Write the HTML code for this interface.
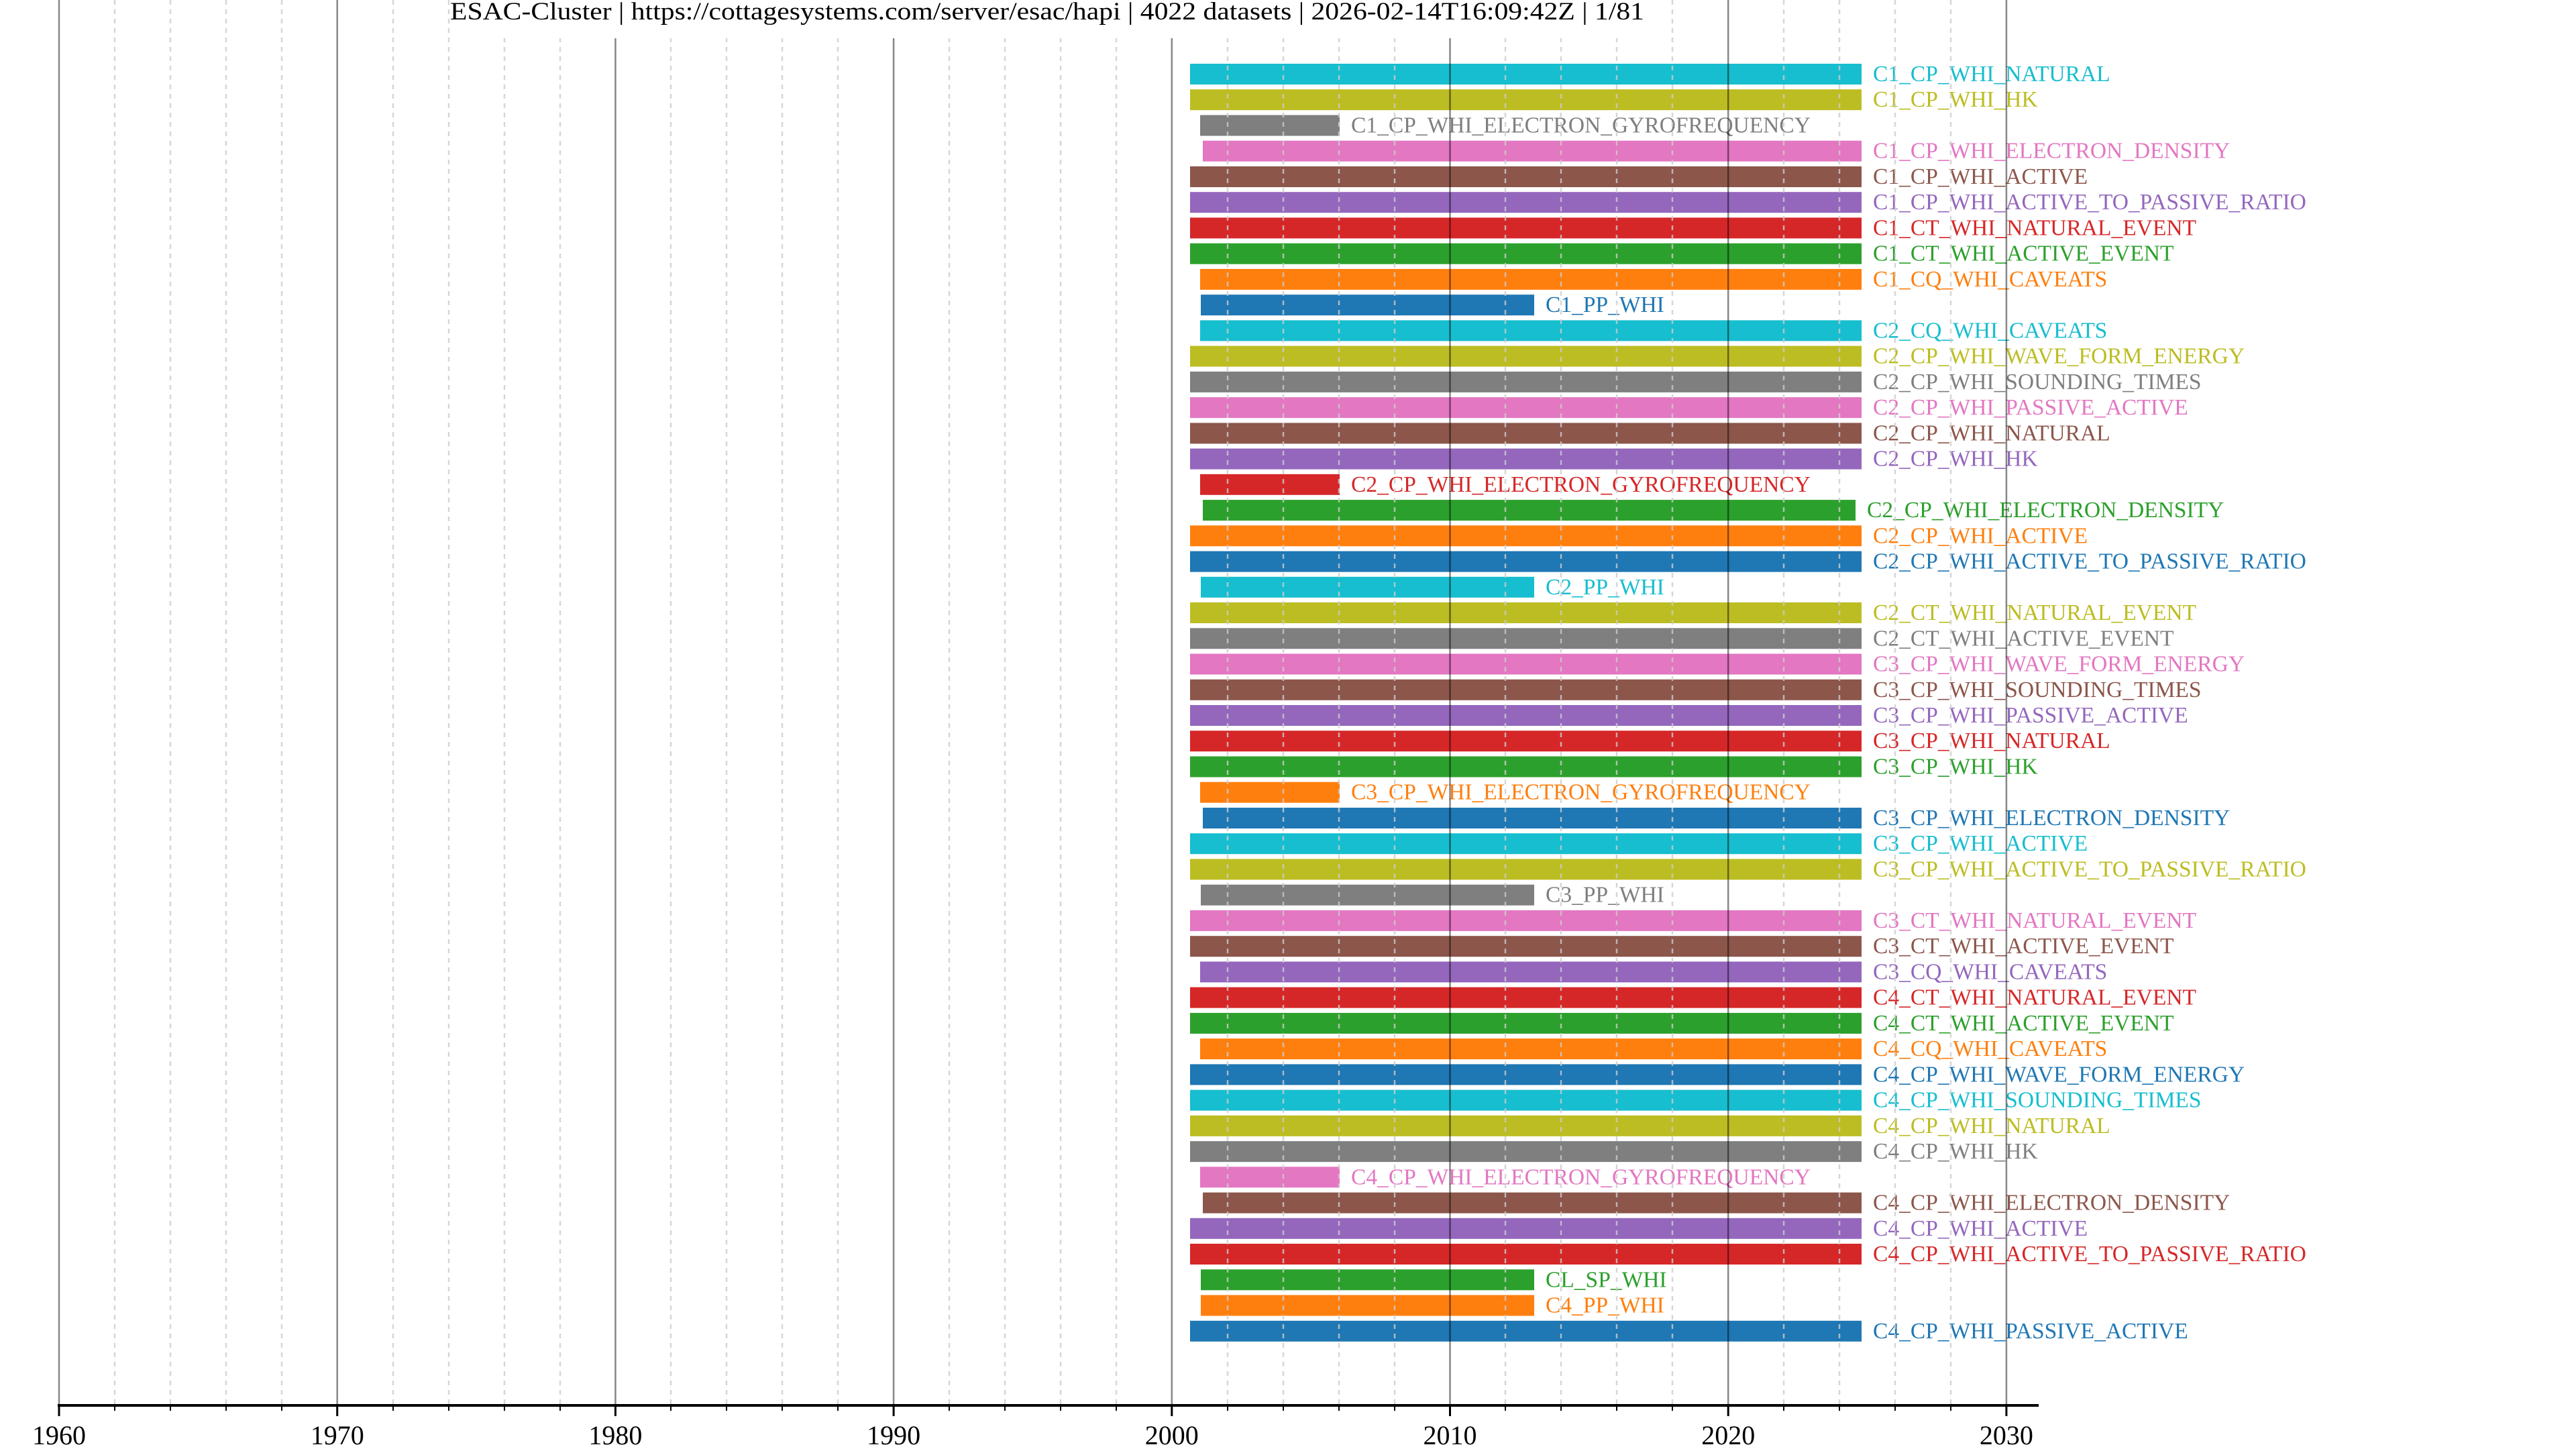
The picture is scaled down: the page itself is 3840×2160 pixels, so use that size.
<!DOCTYPE html>
<html><head><meta charset="utf-8"><style>
html,body{margin:0;padding:0;background:#fff;}
svg{display:block;}
text{font-family:"Liberation Serif","Times New Roman",serif;}
.l{font-size:33.5px;}
</style></head><body>
<svg width="3840" height="2160" viewBox="0 0 3840 2160" xmlns="http://www.w3.org/2000/svg">
<rect width="3840" height="2160" fill="#fff"/>
<g class="l">
<g transform="translate(0,95.0)"><rect x="1774" y="0" width="1001" height="31" fill="#17becf"/><text x="2792" y="26" fill="#17becf">C1_CP_WHI_NATURAL</text></g>
<g transform="translate(0,133.2)"><rect x="1774" y="0" width="1001" height="31" fill="#bcbd22"/><text x="2792" y="26" fill="#bcbd22">C1_CP_WHI_HK</text></g>
<g transform="translate(0,171.5)"><rect x="1789" y="0" width="208" height="31" fill="#7f7f7f"/><text x="2014" y="26" fill="#7f7f7f">C1_CP_WHI_ELECTRON_GYROFREQUENCY</text></g>
<g transform="translate(0,209.7)"><rect x="1793" y="0" width="982" height="31" fill="#e377c2"/><text x="2792" y="26" fill="#e377c2">C1_CP_WHI_ELECTRON_DENSITY</text></g>
<g transform="translate(0,248.0)"><rect x="1774" y="0" width="1001" height="31" fill="#8c564b"/><text x="2792" y="26" fill="#8c564b">C1_CP_WHI_ACTIVE</text></g>
<g transform="translate(0,286.2)"><rect x="1774" y="0" width="1001" height="31" fill="#9467bd"/><text x="2792" y="26" fill="#9467bd">C1_CP_WHI_ACTIVE_TO_PASSIVE_RATIO</text></g>
<g transform="translate(0,324.4)"><rect x="1774" y="0" width="1001" height="31" fill="#d62728"/><text x="2792" y="26" fill="#d62728">C1_CT_WHI_NATURAL_EVENT</text></g>
<g transform="translate(0,362.7)"><rect x="1774" y="0" width="1001" height="31" fill="#2ca02c"/><text x="2792" y="26" fill="#2ca02c">C1_CT_WHI_ACTIVE_EVENT</text></g>
<g transform="translate(0,400.9)"><rect x="1789" y="0" width="986" height="31" fill="#ff7f0e"/><text x="2792" y="26" fill="#ff7f0e">C1_CQ_WHI_CAVEATS</text></g>
<g transform="translate(0,439.2)"><rect x="1790" y="0" width="497" height="31" fill="#1f77b4"/><text x="2304" y="26" fill="#1f77b4">C1_PP_WHI</text></g>
<g transform="translate(0,477.4)"><rect x="1789" y="0" width="986" height="31" fill="#17becf"/><text x="2792" y="26" fill="#17becf">C2_CQ_WHI_CAVEATS</text></g>
<g transform="translate(0,515.6)"><rect x="1774" y="0" width="1001" height="31" fill="#bcbd22"/><text x="2792" y="26" fill="#bcbd22">C2_CP_WHI_WAVE_FORM_ENERGY</text></g>
<g transform="translate(0,553.9)"><rect x="1774" y="0" width="1001" height="31" fill="#7f7f7f"/><text x="2792" y="26" fill="#7f7f7f">C2_CP_WHI_SOUNDING_TIMES</text></g>
<g transform="translate(0,592.1)"><rect x="1774" y="0" width="1001" height="31" fill="#e377c2"/><text x="2792" y="26" fill="#e377c2">C2_CP_WHI_PASSIVE_ACTIVE</text></g>
<g transform="translate(0,630.4)"><rect x="1774" y="0" width="1001" height="31" fill="#8c564b"/><text x="2792" y="26" fill="#8c564b">C2_CP_WHI_NATURAL</text></g>
<g transform="translate(0,668.6)"><rect x="1774" y="0" width="1001" height="31" fill="#9467bd"/><text x="2792" y="26" fill="#9467bd">C2_CP_WHI_HK</text></g>
<g transform="translate(0,706.8)"><rect x="1789" y="0" width="208" height="31" fill="#d62728"/><text x="2014" y="26" fill="#d62728">C2_CP_WHI_ELECTRON_GYROFREQUENCY</text></g>
<g transform="translate(0,745.1)"><rect x="1793" y="0" width="973" height="31" fill="#2ca02c"/><text x="2783" y="26" fill="#2ca02c">C2_CP_WHI_ELECTRON_DENSITY</text></g>
<g transform="translate(0,783.3)"><rect x="1774" y="0" width="1001" height="31" fill="#ff7f0e"/><text x="2792" y="26" fill="#ff7f0e">C2_CP_WHI_ACTIVE</text></g>
<g transform="translate(0,821.6)"><rect x="1774" y="0" width="1001" height="31" fill="#1f77b4"/><text x="2792" y="26" fill="#1f77b4">C2_CP_WHI_ACTIVE_TO_PASSIVE_RATIO</text></g>
<g transform="translate(0,859.8)"><rect x="1790" y="0" width="497" height="31" fill="#17becf"/><text x="2304" y="26" fill="#17becf">C2_PP_WHI</text></g>
<g transform="translate(0,898.0)"><rect x="1774" y="0" width="1001" height="31" fill="#bcbd22"/><text x="2792" y="26" fill="#bcbd22">C2_CT_WHI_NATURAL_EVENT</text></g>
<g transform="translate(0,936.3)"><rect x="1774" y="0" width="1001" height="31" fill="#7f7f7f"/><text x="2792" y="26" fill="#7f7f7f">C2_CT_WHI_ACTIVE_EVENT</text></g>
<g transform="translate(0,974.5)"><rect x="1774" y="0" width="1001" height="31" fill="#e377c2"/><text x="2792" y="26" fill="#e377c2">C3_CP_WHI_WAVE_FORM_ENERGY</text></g>
<g transform="translate(0,1012.8)"><rect x="1774" y="0" width="1001" height="31" fill="#8c564b"/><text x="2792" y="26" fill="#8c564b">C3_CP_WHI_SOUNDING_TIMES</text></g>
<g transform="translate(0,1051.0)"><rect x="1774" y="0" width="1001" height="31" fill="#9467bd"/><text x="2792" y="26" fill="#9467bd">C3_CP_WHI_PASSIVE_ACTIVE</text></g>
<g transform="translate(0,1089.2)"><rect x="1774" y="0" width="1001" height="31" fill="#d62728"/><text x="2792" y="26" fill="#d62728">C3_CP_WHI_NATURAL</text></g>
<g transform="translate(0,1127.5)"><rect x="1774" y="0" width="1001" height="31" fill="#2ca02c"/><text x="2792" y="26" fill="#2ca02c">C3_CP_WHI_HK</text></g>
<g transform="translate(0,1165.7)"><rect x="1789" y="0" width="208" height="31" fill="#ff7f0e"/><text x="2014" y="26" fill="#ff7f0e">C3_CP_WHI_ELECTRON_GYROFREQUENCY</text></g>
<g transform="translate(0,1204.0)"><rect x="1793" y="0" width="982" height="31" fill="#1f77b4"/><text x="2792" y="26" fill="#1f77b4">C3_CP_WHI_ELECTRON_DENSITY</text></g>
<g transform="translate(0,1242.2)"><rect x="1774" y="0" width="1001" height="31" fill="#17becf"/><text x="2792" y="26" fill="#17becf">C3_CP_WHI_ACTIVE</text></g>
<g transform="translate(0,1280.4)"><rect x="1774" y="0" width="1001" height="31" fill="#bcbd22"/><text x="2792" y="26" fill="#bcbd22">C3_CP_WHI_ACTIVE_TO_PASSIVE_RATIO</text></g>
<g transform="translate(0,1318.7)"><rect x="1790" y="0" width="497" height="31" fill="#7f7f7f"/><text x="2304" y="26" fill="#7f7f7f">C3_PP_WHI</text></g>
<g transform="translate(0,1356.9)"><rect x="1774" y="0" width="1001" height="31" fill="#e377c2"/><text x="2792" y="26" fill="#e377c2">C3_CT_WHI_NATURAL_EVENT</text></g>
<g transform="translate(0,1395.2)"><rect x="1774" y="0" width="1001" height="31" fill="#8c564b"/><text x="2792" y="26" fill="#8c564b">C3_CT_WHI_ACTIVE_EVENT</text></g>
<g transform="translate(0,1433.4)"><rect x="1789" y="0" width="986" height="31" fill="#9467bd"/><text x="2792" y="26" fill="#9467bd">C3_CQ_WHI_CAVEATS</text></g>
<g transform="translate(0,1471.6)"><rect x="1774" y="0" width="1001" height="31" fill="#d62728"/><text x="2792" y="26" fill="#d62728">C4_CT_WHI_NATURAL_EVENT</text></g>
<g transform="translate(0,1509.9)"><rect x="1774" y="0" width="1001" height="31" fill="#2ca02c"/><text x="2792" y="26" fill="#2ca02c">C4_CT_WHI_ACTIVE_EVENT</text></g>
<g transform="translate(0,1548.1)"><rect x="1789" y="0" width="986" height="31" fill="#ff7f0e"/><text x="2792" y="26" fill="#ff7f0e">C4_CQ_WHI_CAVEATS</text></g>
<g transform="translate(0,1586.4)"><rect x="1774" y="0" width="1001" height="31" fill="#1f77b4"/><text x="2792" y="26" fill="#1f77b4">C4_CP_WHI_WAVE_FORM_ENERGY</text></g>
<g transform="translate(0,1624.6)"><rect x="1774" y="0" width="1001" height="31" fill="#17becf"/><text x="2792" y="26" fill="#17becf">C4_CP_WHI_SOUNDING_TIMES</text></g>
<g transform="translate(0,1662.8)"><rect x="1774" y="0" width="1001" height="31" fill="#bcbd22"/><text x="2792" y="26" fill="#bcbd22">C4_CP_WHI_NATURAL</text></g>
<g transform="translate(0,1701.1)"><rect x="1774" y="0" width="1001" height="31" fill="#7f7f7f"/><text x="2792" y="26" fill="#7f7f7f">C4_CP_WHI_HK</text></g>
<g transform="translate(0,1739.3)"><rect x="1789" y="0" width="208" height="31" fill="#e377c2"/><text x="2014" y="26" fill="#e377c2">C4_CP_WHI_ELECTRON_GYROFREQUENCY</text></g>
<g transform="translate(0,1777.6)"><rect x="1793" y="0" width="982" height="31" fill="#8c564b"/><text x="2792" y="26" fill="#8c564b">C4_CP_WHI_ELECTRON_DENSITY</text></g>
<g transform="translate(0,1815.8)"><rect x="1774" y="0" width="1001" height="31" fill="#9467bd"/><text x="2792" y="26" fill="#9467bd">C4_CP_WHI_ACTIVE</text></g>
<g transform="translate(0,1854.0)"><rect x="1774" y="0" width="1001" height="31" fill="#d62728"/><text x="2792" y="26" fill="#d62728">C4_CP_WHI_ACTIVE_TO_PASSIVE_RATIO</text></g>
<g transform="translate(0,1892.3)"><rect x="1790" y="0" width="497" height="31" fill="#2ca02c"/><text x="2304" y="26" fill="#2ca02c">CL_SP_WHI</text></g>
<g transform="translate(0,1930.5)"><rect x="1790" y="0" width="497" height="31" fill="#ff7f0e"/><text x="2304" y="26" fill="#ff7f0e">C4_PP_WHI</text></g>
<g transform="translate(0,1968.8)"><rect x="1774" y="0" width="1001" height="31" fill="#1f77b4"/><text x="2792" y="26" fill="#1f77b4">C4_CP_WHI_PASSIVE_ACTIVE</text></g>
</g>
<g stroke="#cccccc" stroke-opacity="0.8" stroke-width="2.5" stroke-dasharray="7,7">
<line x1="171" y1="0" x2="171" y2="2095"/><line x1="254" y1="0" x2="254" y2="2095"/><line x1="337" y1="0" x2="337" y2="2095"/><line x1="420" y1="0" x2="420" y2="2095"/>
<line x1="586" y1="0" x2="586" y2="2095"/><line x1="669" y1="0" x2="669" y2="2095"/><line x1="752" y1="0" x2="752" y2="2095"/><line x1="835" y1="0" x2="835" y2="2095"/>
<line x1="1000" y1="0" x2="1000" y2="2095"/><line x1="1083" y1="0" x2="1083" y2="2095"/><line x1="1166" y1="0" x2="1166" y2="2095"/><line x1="1249" y1="0" x2="1249" y2="2095"/>
<line x1="1415" y1="0" x2="1415" y2="2095"/><line x1="1498" y1="0" x2="1498" y2="2095"/><line x1="1581" y1="0" x2="1581" y2="2095"/><line x1="1664" y1="0" x2="1664" y2="2095"/>
<line x1="1830" y1="0" x2="1830" y2="2095"/><line x1="1913" y1="0" x2="1913" y2="2095"/><line x1="1996" y1="0" x2="1996" y2="2095"/><line x1="2079" y1="0" x2="2079" y2="2095"/>
<line x1="2244" y1="0" x2="2244" y2="2095"/><line x1="2327" y1="0" x2="2327" y2="2095"/><line x1="2410" y1="0" x2="2410" y2="2095"/><line x1="2493" y1="0" x2="2493" y2="2095"/>
<line x1="2659" y1="0" x2="2659" y2="2095"/><line x1="2742" y1="0" x2="2742" y2="2095"/><line x1="2825" y1="0" x2="2825" y2="2095"/><line x1="2908" y1="0" x2="2908" y2="2095"/>
</g>
<g stroke="#000" stroke-opacity="0.47" stroke-width="2.5">
<line x1="88" y1="0" x2="88" y2="2095"/><line x1="502.7" y1="0" x2="502.7" y2="2095"/><line x1="917.4" y1="0" x2="917.4" y2="2095"/><line x1="1332.1" y1="0" x2="1332.1" y2="2095"/>
<line x1="1746.8" y1="0" x2="1746.8" y2="2095"/><line x1="2161.5" y1="0" x2="2161.5" y2="2095"/><line x1="2576.2" y1="0" x2="2576.2" y2="2095"/><line x1="2990.9" y1="0" x2="2990.9" y2="2095"/>
</g>
<rect x="671" y="0" width="1782" height="57" fill="#fff"/>
<text x="671" y="29" font-size="37" fill="#000" textLength="1780" lengthAdjust="spacingAndGlyphs">ESAC-Cluster | https://cottagesystems.com/server/esac/hapi | 4022 datasets | 2026-02-14T16:09:42Z | 1/81</text>
<line x1="86" y1="2095" x2="3039" y2="2095" stroke="#000" stroke-width="4"/>
<g stroke="#000" stroke-width="3">
<line x1="88" y1="2095" x2="88" y2="2111"/><line x1="502.7" y1="2095" x2="502.7" y2="2111"/><line x1="917.4" y1="2095" x2="917.4" y2="2111"/><line x1="1332.1" y1="2095" x2="1332.1" y2="2111"/>
<line x1="1746.8" y1="2095" x2="1746.8" y2="2111"/><line x1="2161.5" y1="2095" x2="2161.5" y2="2111"/><line x1="2576.2" y1="2095" x2="2576.2" y2="2111"/><line x1="2990.9" y1="2095" x2="2990.9" y2="2111"/>
</g>
<g stroke="#000" stroke-width="2">
<line x1="171" y1="2095" x2="171" y2="2103"/><line x1="254" y1="2095" x2="254" y2="2103"/><line x1="337" y1="2095" x2="337" y2="2103"/><line x1="420" y1="2095" x2="420" y2="2103"/>
<line x1="586" y1="2095" x2="586" y2="2103"/><line x1="669" y1="2095" x2="669" y2="2103"/><line x1="752" y1="2095" x2="752" y2="2103"/><line x1="835" y1="2095" x2="835" y2="2103"/>
<line x1="1000" y1="2095" x2="1000" y2="2103"/><line x1="1083" y1="2095" x2="1083" y2="2103"/><line x1="1166" y1="2095" x2="1166" y2="2103"/><line x1="1249" y1="2095" x2="1249" y2="2103"/>
<line x1="1415" y1="2095" x2="1415" y2="2103"/><line x1="1498" y1="2095" x2="1498" y2="2103"/><line x1="1581" y1="2095" x2="1581" y2="2103"/><line x1="1664" y1="2095" x2="1664" y2="2103"/>
<line x1="1830" y1="2095" x2="1830" y2="2103"/><line x1="1913" y1="2095" x2="1913" y2="2103"/><line x1="1996" y1="2095" x2="1996" y2="2103"/><line x1="2079" y1="2095" x2="2079" y2="2103"/>
<line x1="2244" y1="2095" x2="2244" y2="2103"/><line x1="2327" y1="2095" x2="2327" y2="2103"/><line x1="2410" y1="2095" x2="2410" y2="2103"/><line x1="2493" y1="2095" x2="2493" y2="2103"/>
<line x1="2659" y1="2095" x2="2659" y2="2103"/><line x1="2742" y1="2095" x2="2742" y2="2103"/><line x1="2825" y1="2095" x2="2825" y2="2103"/><line x1="2908" y1="2095" x2="2908" y2="2103"/>
</g>
<g font-size="40" fill="#000" text-anchor="middle">
<text x="88" y="2153">1960</text><text x="502.7" y="2153">1970</text><text x="917.4" y="2153">1980</text><text x="1332.1" y="2153">1990</text>
<text x="1746.8" y="2153">2000</text><text x="2161.5" y="2153">2010</text><text x="2576.2" y="2153">2020</text><text x="2990.9" y="2153">2030</text>
</g>
</svg>
</body></html>
